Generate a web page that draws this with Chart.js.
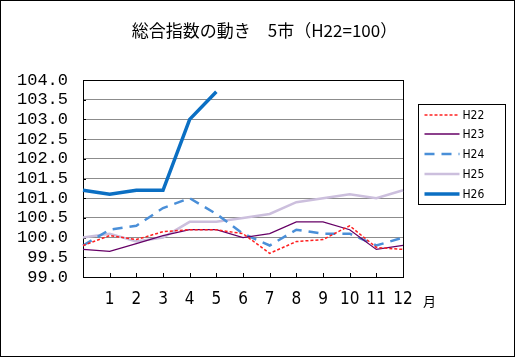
<!DOCTYPE html>
<html><head><meta charset="utf-8">
<script src="https://cdn.jsdelivr.net/npm/chart.js@4/dist/chart.umd.min.js"></script>
<style>html,body{margin:0;padding:0;background:#fff}#wrap{width:515px;height:357px;position:relative}canvas{display:block}</style>
</head><body><div id="wrap"><canvas id="c" width="515" height="357"></canvas></div>
<script>
const months = ['', '1', '2', '3', '4', '5', '6', '7', '8', '9', '10', '11', '12'];
const seriesNames = ['H22', 'H23', 'H24', 'H25', 'H26'];
const h22 = [99.8, 100.05, 99.95, 100.15, 100.2, 100.2, 100.1, 99.6, 99.9, 99.95, 100.3, 99.75, 99.7];
const h23 = [99.7, 99.65, 99.85, 100.05, 100.2, 100.2, 100.0, 100.1, 100.4, 100.4, 100.2, 99.7, 99.8];
const h24 = [99.8, 100.2, 100.3, 100.75, 101.0, 100.6, 100.1, 99.8, 100.2, 100.1, 100.1, 99.8, 100.0];
const h25 = [100.0, 100.1, 99.9, 100.0, 100.4, 100.4, 100.5, 100.6, 100.9, 101.0, 101.1, 101.0, 101.2];
const h26 = [101.2, 101.1, 101.2, 101.2, 103.0, 103.7, null, null, null, null, null, null, null];
const yMin = 99.0, yMax = 104.0, yStep = 0.5;
const titleText = '総合指数の動き　5市（H22=100）';
const monthUnit = '月';

const seriesValues = [h22, h23, h24, h25, h26];
const styles = [
  {borderColor: '#FF2020', borderWidth: 1.5, borderDash: [3, 2]},
  {borderColor: '#660066', borderWidth: 1.3, borderDash: []},
  {borderColor: '#4A8FD8', borderWidth: 2.5, borderDash: [10, 7]},
  {borderColor: '#CCBFDD', borderWidth: 2.5, borderDash: []},
  {borderColor: '#0B6FC3', borderWidth: 3.5, borderDash: []}
];
const datasets = seriesNames.map((n, i) => Object.assign({
  label: n, data: seriesValues[i], pointRadius: 0, tension: 0, fill: false, spanGaps: false
}, styles[i]));

const decor = {
  id: 'decor',
  beforeDatasetsDraw(chart) {
    const {ctx, chartArea: a, scales: {x, y}} = chart;
    ctx.save();
    ctx.strokeStyle = '#000';
    ctx.lineWidth = 1;
    ctx.beginPath();
    for (let i = 1; i < x.ticks.length - 1; i++) {
      const px = Math.round(x.getPixelForTick(i)) + 0.5;
      ctx.moveTo(px, a.bottom); ctx.lineTo(px, a.bottom - 4);
    }
    for (let i = 0; i < y.ticks.length; i++) {
      const py = Math.round(y.getPixelForTick(i)) + 0.5;
      ctx.moveTo(a.left, py); ctx.lineTo(a.left + 3, py);
    }
    ctx.stroke();
    ctx.strokeRect(Math.round(a.left) + 0.5, Math.round(a.top) + 0.5, Math.round(a.right - a.left), Math.round(a.bottom - a.top));
    ctx.restore();
  },
  afterDraw(chart) {
    const {ctx, chartArea: a} = chart;
    ctx.save();
    const L = Math.round(a.right) + 15.5, T = Math.round(a.top) + 24.5;
    ctx.strokeStyle = '#000'; ctx.lineWidth = 1; ctx.setLineDash([]);
    ctx.strokeRect(L, T, 87, 100);
    chart.data.datasets.forEach((ds, i) => {
      const yy = Math.round(T + 10 + i * 19.85);
      ctx.save();
      ctx.strokeStyle = ds.borderColor; ctx.lineWidth = ds.borderWidth;
      ctx.setLineDash(ds.borderDash || []);
      ctx.beginPath(); ctx.moveTo(L + 6, yy); ctx.lineTo(L + 41, yy); ctx.stroke();
      ctx.restore();
      ctx.fillStyle = '#000';
      ctx.font = '12px "Liberation Sans Narrow", "DejaVu Sans Condensed", "Liberation Sans"';
      ctx.textBaseline = 'middle'; ctx.textAlign = 'left';
      ctx.fillText(ds.label, L + 44, yy + 1);
    });
    ctx.fillStyle = '#000';
    ctx.font = '13px "Noto Sans CJK JP"';
    ctx.textBaseline = 'middle'; ctx.textAlign = 'left';
    ctx.fillText(monthUnit, a.right + 20, a.bottom + 24);
    ctx.strokeRect(0.5, 0.5, chart.width - 1, chart.height - 1);
    ctx.restore();
  }
};

new Chart(document.getElementById('c'), {
  type: 'line',
  data: {labels: months, datasets},
  options: {
    responsive: false, animation: false, devicePixelRatio: 1,
    layout: {padding: {left: 14, right: 0, top: 0, bottom: 40}},
    plugins: {
      legend: {display: false},
      tooltip: {enabled: false},
      title: {display: true, text: titleText, color: '#000',
        font: {family: '"Noto Sans CJK JP"', size: 17, weight: 'normal'},
        padding: {top: 20, bottom: 39.6}}
    },
    scales: {
      x: {
        offset: false,
        grid: {display: false, drawTicks: false},
        border: {display: true, color: '#000'},
        ticks: {color: '#000', padding: 12, maxRotation: 0, autoSkip: false,
          font: {family: '"Liberation Sans Narrow", "DejaVu Sans Condensed", "Liberation Sans"', size: 17}},
        afterFit(s) { s.height = 40; }
      },
      y: {
        min: yMin, max: yMax,
        grid: {color: '#8c8c8c', drawTicks: false, lineWidth: 1},
        border: {display: true, color: '#000'},
        ticks: {stepSize: yStep, color: '#000', padding: 15, autoSkip: false,
          callback: v => Number(v).toFixed(1),
          font: {family: '"Liberation Mono"', size: 17}},
        afterFit(s) { s.width = 69; }
      },
      r2: {
        type: 'linear', position: 'right', display: true,
        grid: {display: false, drawTicks: false}, border: {display: false},
        ticks: {display: false},
        afterFit(s) { s.width = 112; }
      }
    }
  },
  plugins: [decor]
});
</script>
</body></html>
